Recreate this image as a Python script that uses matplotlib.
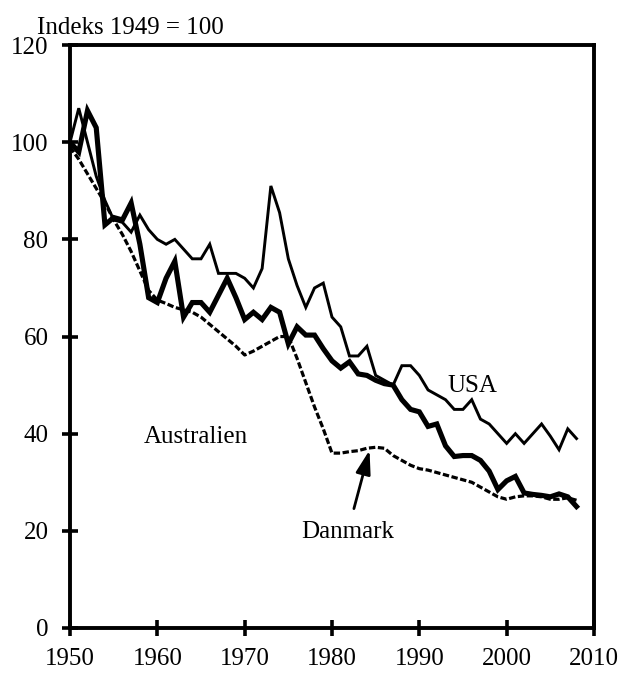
import matplotlib
matplotlib.use("Agg")
import matplotlib.pyplot as plt

plt.rcParams['font.family'] = ['Liberation Serif', 'DejaVu Serif']

years = list(range(1950, 2009))

usa = [100, 107, 100, 93, 88, 84, 83.5, 81.5, 85, 82,
       80, 79, 80, 78, 76, 76, 79, 73, 73, 73,
       72, 70, 74, 91, 85.5, 76, 70.5, 66, 70, 71,
       64, 62, 56, 56, 58, 52, 51, 50, 54, 54,
       52, 49, 48, 47, 45, 45, 47, 43, 42, 40,
       38, 40, 38, 40, 42, 39.5, 36.7, 41, 39]

australien = [100, 98, 106.5, 103, 83, 84.5, 84, 87.5, 79, 68,
              67, 72, 75.5, 64, 67, 67, 65, 68.5, 72, 68,
              63.5, 65, 63.5, 66, 65, 58.5, 62, 60.3, 60.3, 57.5,
              55, 53.5, 54.8, 52.3, 52, 51, 50.3, 50, 47, 45,
              44.5, 41.5, 42, 37.5, 35.3, 35.5, 35.5, 34.5, 32.3, 28.5,
              30.3, 31.2, 27.8, 27.5, 27.3, 27, 27.6, 27, 25]

danmark = [99, 96.5, 93.5, 90.5, 87.5, 84, 81, 77.5, 73.5, 69.5,
           67.5, 66.8, 66, 65.5, 65, 64, 62.5, 61, 59.5, 58,
           56.2, 57, 58, 59, 60, 60, 55.5, 50.5, 45.5, 41,
           36, 36, 36.3, 36.5, 37, 37.2, 37, 35.5, 34.5, 33.5,
           32.8, 32.5, 32, 31.5, 31, 30.5, 30, 29, 28, 27,
           26.5, 27, 27.2, 27.2, 27, 26.5, 26.5, 26.8, 26.3]

x_ticks = [1950, 1960, 1970, 1980, 1990, 2000, 2010]
y_ticks = [0, 20, 40, 60, 80, 100, 120]

fig = plt.figure(figsize=(6.23, 6.77), dpi=100)
ax = fig.add_axes([0.1124, 0.0724, 0.841, 0.861])

ax.plot(years, usa, color='black', lw=2.1, solid_joinstyle='miter')
ax.plot(years, australien, color='black', lw=3.7, solid_joinstyle='miter')
ax.plot(years, danmark, color='black', lw=2.3, linestyle=(0, (2.0, 0.8)))

ax.set_xlim(1950, 2010)
ax.set_ylim(0, 120)
ax.set_xticks(x_ticks)
ax.set_yticks(y_ticks)
ax.tick_params(axis='both', direction='inout', length=11, width=2.6,
               labelsize=18)
ax.tick_params(axis='y', pad=10)
ax.tick_params(axis='x', pad=9)
for s in ax.spines.values():
    s.set_linewidth(2.8)

fig.text(37 / 623, 1 - 28 / 677, 'Indeks 1949 = 100', fontsize=18,
         ha='left', va='center')

ax.text(1996.1, 49.8, 'USA', fontsize=18, ha='center', va='center')
ax.text(1964.4, 39.3, 'Australien', fontsize=18, ha='center', va='center')
ax.annotate('Danmark', xy=(1984.3, 36.6), xytext=(1981.8, 19.8),
            fontsize=18, ha='center', va='center',
            arrowprops=dict(arrowstyle='-|>,head_length=0.8,head_width=0.25',
                            color='black', lw=2.0, shrinkA=7, shrinkB=0))

fig.savefig('out.png', dpi=100)
